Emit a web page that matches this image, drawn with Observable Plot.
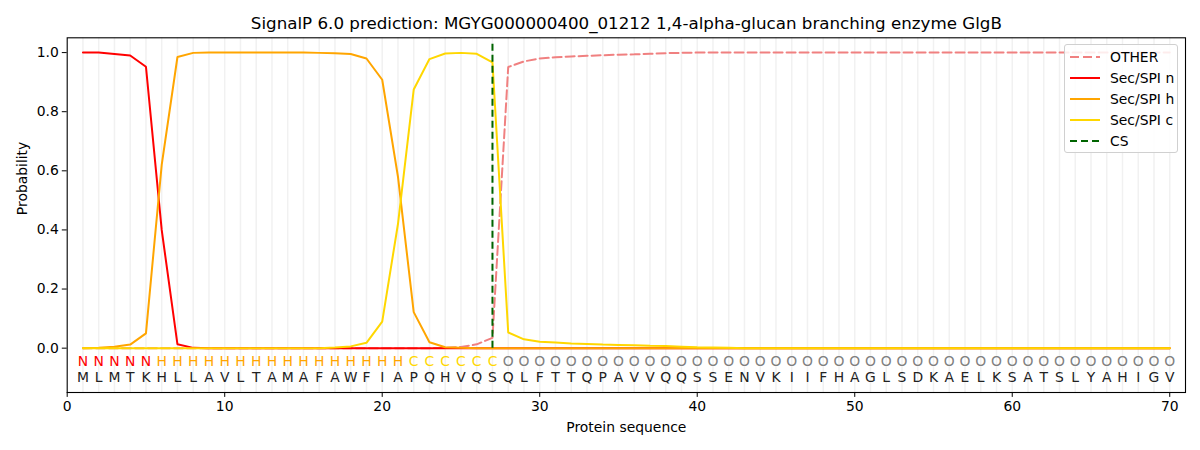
<!DOCTYPE html>
<html>
<head>
<meta charset="utf-8">
<script src="https://cdn.jsdelivr.net/npm/d3@7"></script>
<script src="https://cdn.jsdelivr.net/npm/@observablehq/plot@0.6"></script>
<style>
  body { margin: 0; background: #fff; }
  #wrap { position: relative; width: 1200px; height: 450px; font-family: "DejaVu Sans", sans-serif; }
  #legend { position: absolute; left: 1064px; top: 44px; width: 112px; height: 107px;
    border: 1px solid #d0d0d0; border-radius: 3px; background: rgba(255,255,255,0.85); }
  .row { position: absolute; left: 0; height: 20px; display: flex; align-items: center; font-size: 13.9px; color: #000; }
  .row svg { margin-left: 5px; margin-right: 10px; }
</style>
</head>
<body>
<div id="wrap"><div id="legend"></div></div>
<script>
const title = "SignalP 6.0 prediction: MGYG000000400_01212 1,4-alpha-glucan branching enzyme GlgB";
const residues = "MLMTKHLLAVLTAMAFAWFIAPQHVQSQLFTTQPAVVQQSSENVKIIFHAGLSDKAELKSATSLYAHIGV".split("");
const regionLabels = "NNNNNHHHHHHHHHHHHHHHHCCCCCCOOOOOOOOOOOOOOOOOOOOOOOOOOOOOOOOOOOOOOOOOOO".split("");
const labelColors = {N: "#ff0000", H: "#ffa500", C: "#ffd700", O: "#808080"};

const secN = [1.0, 1.0, 0.995, 0.99, 0.952, 0.40, 0.013, 0.001, 0, 0,
  0, 0, 0, 0, 0, 0, 0, 0, 0, 0,
  0, 0, 0, 0, 0, 0, 0, 0, 0, 0,
  0, 0, 0, 0, 0, 0, 0, 0, 0, 0,
  0, 0, 0, 0, 0, 0, 0, 0, 0, 0,
  0, 0, 0, 0, 0, 0, 0, 0, 0, 0,
  0, 0, 0, 0, 0, 0, 0, 0, 0, 0];
const secH = [0.0, 0.001, 0.005, 0.012, 0.05, 0.62, 0.985, 0.999, 1.0, 1.0,
  1.0, 1.0, 1.0, 1.0, 1.0, 0.999, 0.998, 0.995, 0.98, 0.908,
  0.58, 0.122, 0.02, 0.003, 0.001, 0, 0, 0, 0, 0,
  0, 0, 0, 0, 0, 0, 0, 0, 0, 0,
  0, 0, 0, 0, 0, 0, 0, 0, 0, 0,
  0, 0, 0, 0, 0, 0, 0, 0, 0, 0,
  0, 0, 0, 0, 0, 0, 0, 0, 0, 0];
const secC = [0, 0, 0, 0, 0, 0, 0, 0, 0, 0,
  0, 0, 0, 0, 0, 0, 0.002, 0.006, 0.018, 0.09,
  0.42, 0.875, 0.978, 0.997, 0.999, 0.996, 0.967, 0.053, 0.03, 0.022,
  0.019, 0.016, 0.014, 0.012, 0.011, 0.01, 0.008, 0.007, 0.005, 0.003,
  0.002, 0.001, 0, 0, 0, 0, 0, 0, 0, 0,
  0, 0, 0, 0, 0, 0, 0, 0, 0, 0,
  0, 0, 0, 0, 0, 0, 0, 0, 0, 0];
const other = [0, 0, 0, 0, 0, 0, 0, 0, 0, 0,
  0, 0, 0, 0, 0, 0, 0, 0, 0, 0,
  0, 0, 0, 0.001, 0.004, 0.013, 0.035, 0.951, 0.97, 0.98,
  0.984, 0.987, 0.989, 0.991, 0.993, 0.994, 0.996, 0.998, 0.999, 1.0,
  1.0, 1.0, 1.0, 1.0, 1.0, 1.0, 1.0, 1.0, 1.0, 1.0,
  1.0, 1.0, 1.0, 1.0, 1.0, 1.0, 1.0, 1.0, 1.0, 1.0,
  1.0, 1.0, 1.0, 1.0, 1.0, 1.0, 1.0, 1.0, 1.0, 1.0];
const csPos = 27;
const csSpan = [0, 1.035];
const xTicks = [0, 10, 20, 30, 40, 50, 60, 70];
const yTicks = [0, 0.2, 0.4, 0.6, 0.8, 1.0];

const series = [
  {name: "OTHER", values: other, color: "#f08080", dash: "9,4"},
  {name: "Sec/SPI n", values: secN, color: "#ff0000", dash: null},
  {name: "Sec/SPI h", values: secH, color: "#ffa500", dash: null},
  {name: "Sec/SPI c", values: secC, color: "#ffd700", dash: null}
];

const pos = residues.map((r, i) => i + 1);
const seqTable = residues.map((r, i) => ({x: i + 1, res: r, lab: regionLabels[i]}));

const lineMarks = series.map(s => Plot.line(s.values.map((v, i) => ({x: i + 1, y: v})), {
  x: "x", y: "y", stroke: s.color, strokeWidth: 2, strokeDasharray: s.dash, strokeLinejoin: "miter"
}));

const plot = Plot.plot({
  width: 1200,
  height: 450,
  marginLeft: 66.7,
  marginRight: 15,
  marginTop: 37.3,
  marginBottom: 58,
  style: {fontFamily: "DejaVu Sans, sans-serif", fontSize: "13.9px", background: "white", color: "black"},
  x: {domain: [0, 71]},
  y: {domain: [-0.15, 1.05]},
  marks: [
    Plot.ruleX(pos, {x: d => d, y1: -0.15, y2: 1.05, stroke: "#f1f1f1", strokeWidth: 1.5}),
    ...lineMarks,
    Plot.ruleX([csPos], {x: d => d, y1: csSpan[0], y2: csSpan[1], stroke: "#006400", strokeWidth: 2, strokeDasharray: "7,4"}),
    Plot.text(seqTable, {x: "x", y: -0.046, text: "lab", fill: d => labelColors[d.lab], fontSize: 13.9, lineAnchor: "middle"}),
    Plot.text(seqTable, {x: "x", y: -0.1, text: "res", fill: "#222", fontSize: 13.9, lineAnchor: "middle"}),
    Plot.frame({stroke: "black", strokeWidth: 1.1}),
    Plot.axisX({ticks: xTicks, tickFormat: d3.format("d"), tickSize: 4.9, tickPadding: 3.5, label: null, fontSize: 13.9}),
    Plot.axisY({ticks: yTicks, tickFormat: d3.format(".1f"), tickSize: 4.9, tickPadding: 3.5, label: null, fontSize: 13.9}),
    Plot.text([title], {frameAnchor: "top", dy: -14, fontSize: 16.7, lineAnchor: "middle", fill: "black"}),
    Plot.text(["Protein sequence"], {frameAnchor: "bottom", dy: 35, fontSize: 13.9, lineAnchor: "middle", fill: "black"}),
    Plot.text(["Probability"], {frameAnchor: "left", dx: -45, rotate: -90, fontSize: 13.9, lineAnchor: "middle", fill: "black"})
  ]
});

const wrap = document.getElementById("wrap");
wrap.insertBefore(plot, wrap.firstChild);

const legendItems = [
  {name: "OTHER", color: "#f08080", dash: "9,4"},
  {name: "Sec/SPI n", color: "#ff0000", dash: null},
  {name: "Sec/SPI h", color: "#ffa500", dash: null},
  {name: "Sec/SPI c", color: "#ffd700", dash: null},
  {name: "CS", color: "#006400", dash: "7,4"}
];
const legend = document.getElementById("legend");
legendItems.forEach((it, i) => {
  const row = document.createElement("div");
  row.className = "row";
  row.style.top = (1.7 + i * 21.1) + "px";
  row.innerHTML = `<svg width="30" height="6"><line x1="0" y1="3" x2="30" y2="3" stroke="${it.color}" stroke-width="2" ${it.dash ? `stroke-dasharray="${it.dash}"` : ""}/></svg><span>${it.name}</span>`;
  legend.appendChild(row);
});
</script>
</body>
</html>
